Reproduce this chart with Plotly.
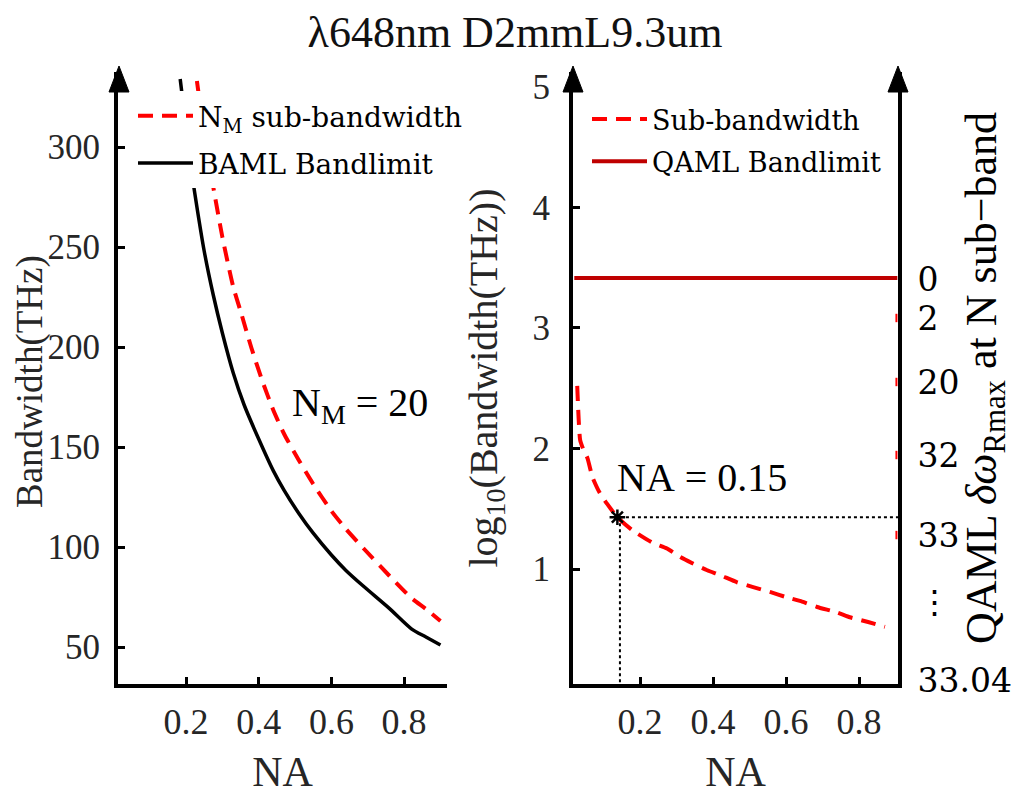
import plotly.graph_objects as go

# ---------------- data ----------------
# Left panel: NA vs bandwidth (THz)
sub_na = [0.23, 0.25, 0.275, 0.30, 0.33, 0.35, 0.38, 0.41, 0.44, 0.47, 0.51, 0.55,
          0.60, 0.64, 0.69, 0.76, 0.82, 0.86, 0.90]
sub_bw = [333, 307, 280, 255, 230, 218, 199.5, 183, 168.5, 156.5, 143.5, 131.5,
          118, 109, 99, 85.5, 74.5, 69, 63]

baml_na = [0.184, 0.20, 0.215, 0.23, 0.25, 0.275, 0.30, 0.33, 0.36, 0.40, 0.44, 0.47,
           0.51, 0.55, 0.60, 0.64, 0.69, 0.76, 0.82, 0.86, 0.90]
baml_bw = [334, 310, 288, 270, 248, 226, 207, 187, 171, 154, 138.2, 128.3,
           116.9, 106.9, 96, 88.3, 80.1, 69.2, 59.1, 55, 51]

# Right panel: NA vs log10(bandwidth)
rsub_na = [0.028, 0.036, 0.045, 0.056, 0.07, 0.09, 0.11, 0.138, 0.18, 0.233, 0.274,
           0.31, 0.342, 0.384, 0.419, 0.466, 0.51, 0.556, 0.597, 0.644, 0.685, 0.74,
           0.775, 0.825, 0.871]
rsub_log = [2.52, 2.07, 1.99, 1.92, 1.76, 1.63, 1.54, 1.43, 1.32, 1.22, 1.17,
            1.10, 1.05, 0.99, 0.95, 0.89, 0.85, 0.81, 0.77, 0.73, 0.685, 0.64,
            0.60, 0.56, 0.52]

qaml_na = [0.02, 0.905]
qaml_log = [3.415, 3.415]

mark_na = 0.138          # starred point
mark_log = 1.43
guide_na = 0.145         # dotted guide lines
guide_end_na = 0.907
guide_bottom = 0.046

# Right-hand axis: labels and positions (in log10 units of the left scale)
right_tick_vals = [3.40, 3.083, 2.552, 1.946, 1.282, 0.726, 0.079]
right_tick_text = ["0", "2", "20", "32", "33", "⋮", "33.04"]
red_mark_vals = [3.083, 2.552, 1.946, 1.282]
red_mark_na = 0.9025

left_xticks = [0.2, 0.4, 0.6, 0.8]
left_yticks = [50, 100, 150, 200, 250, 300]
right_yticks = [1, 2, 3, 4, 5]

# ---------------- figure ----------------
OFF = 8                      # page body margin
W, H = 1025 - 2 * OFF, 803 - 2 * OFF
SERIF = "Liberation Serif"
CAMB = "DejaVu Serif"
GRAY = "#262626"
RED = "#ff0000"
DRED = "#bf0000"


def px(x):
    return (x - OFF) / W


def py(y):
    return 1 - (y - OFF) / H


fig = go.Figure()

fig.add_trace(go.Scatter(x=sub_na, y=sub_bw, mode="lines", name="N<sub>M</sub> sub-bandwidth",
                         line=dict(color=RED, width=4, dash="15px,9px", shape="spline",
                                   smoothing=0.6),
                         xaxis="x", yaxis="y", legend="legend", legendgroup="a"))
fig.add_trace(go.Scatter(x=baml_na, y=baml_bw, mode="lines", name="BAML Bandlimit",
                         line=dict(color="black", width=3.5, shape="spline", smoothing=0.6),
                         xaxis="x", yaxis="y", legend="legend", legendgroup="b"))

fig.add_trace(go.Scatter(x=rsub_na, y=rsub_log, mode="lines", name="Sub-bandwidth",
                         line=dict(color=RED, width=4, dash="15px,9px", shape="spline",
                                   smoothing=0.5),
                         xaxis="x2", yaxis="y2", legend="legend2", legendgroup="c"))
fig.add_trace(go.Scatter(x=qaml_na, y=qaml_log, mode="lines", name="QAML Bandlimit",
                         line=dict(color=DRED, width=4),
                         xaxis="x2", yaxis="y2", legend="legend2", legendgroup="d"))

fig.add_trace(go.Scatter(x=[guide_na, guide_end_na, None, guide_na, guide_na],
                         y=[mark_log, mark_log, None, mark_log, guide_bottom],
                         mode="lines", line=dict(color="black", width=2, dash="dot"),
                         xaxis="x2", yaxis="y2", showlegend=False, hoverinfo="skip"))
fig.add_trace(go.Scatter(x=[mark_na], y=[mark_log], mode="markers",
                         marker=dict(symbol="asterisk-open", size=13, color="black",
                                     line=dict(color="black", width=2.5)),
                         xaxis="x2", yaxis="y2", showlegend=False))
fig.add_trace(go.Scatter(x=[red_mark_na] * len(red_mark_vals), y=red_mark_vals, mode="markers",
                         marker=dict(symbol="line-ns", size=6, color=RED,
                                     line=dict(color=RED, width=2)),
                         xaxis="x2", yaxis="y3", showlegend=False, hoverinfo="skip"))

dom_y = [py(684), py(72)]
tickfont = dict(family=SERIF, size=35, color=GRAY)
xtickfont = dict(family=SERIF, size=36, color=GRAY)

common_x = dict(showline=True, linecolor="black", linewidth=4, ticks="inside", ticklen=7,
                tickwidth=3, tickcolor="black", showgrid=False, zeroline=False,
                tickfont=xtickfont, ticklabelstandoff=3, automargin=False,
                title=dict(text="NA", font=dict(family=SERIF, size=42, color=GRAY), standoff=19))

fig.update_layout(
    width=W, height=H,
    margin=dict(l=0, r=0, t=0, b=0, autoexpand=False),
    paper_bgcolor="white", plot_bgcolor="white",
    title=dict(text="λ648nm D2mmL9.3um", x=px(515), xanchor="center", y=py(32), yanchor="middle",
               font=dict(family=SERIF, size=44, color="#111111")),
    xaxis=dict(domain=[px(118), px(447)], range=[0.0129, 0.918], anchor="y",
               tickvals=left_xticks, ticktext=["0.2", "0.4", "0.6", "0.8"], **common_x),
    yaxis=dict(domain=dom_y, range=[31.5, 337.5], anchor="x", automargin=False,
               showline=True, linecolor="black", linewidth=4, ticks="inside", ticklen=7,
               tickwidth=3, tickcolor="black", showgrid=False, zeroline=False,
               tickvals=left_yticks, tickfont=tickfont, ticklabelstandoff=7),
    xaxis2=dict(domain=[px(573), px(898)], range=[0.0164, 0.9068], anchor="y2",
                tickvals=left_xticks, ticktext=["0.2", "0.4", "0.6", "0.8"], **common_x),
    yaxis2=dict(domain=dom_y, range=[0.046, 5.124], anchor="x2", automargin=False,
                showline=True, linecolor="black", linewidth=4, ticks="inside", ticklen=7,
                tickwidth=3, tickcolor="black", showgrid=False, zeroline=False,
                tickvals=right_yticks, tickfont=tickfont, ticklabelstandoff=12,
                title=dict(text="log<sub>10</sub>(Bandwidth(THz))",
                           font=dict(family=SERIF, size=40, color=GRAY), standoff=24)),
    yaxis3=dict(domain=dom_y, range=[0.046, 5.124], anchor="x2", overlaying="y2", side="right",
                automargin=False,
                showline=True, linecolor="black", linewidth=4, ticks="", showgrid=False,
                zeroline=False, tickvals=right_tick_vals, ticktext=right_tick_text,
                tickfont=dict(family=CAMB, size=33, color="black"), ticklabelstandoff=9),
    legend=dict(x=px(133), y=py(91), xanchor="left", yanchor="top", bgcolor="white",
                font=dict(family=CAMB, size=28, color="black"), traceorder="grouped",
                tracegroupgap=8, itemwidth=55),
    legend2=dict(x=px(587), y=py(95), xanchor="left", yanchor="top",
                 bgcolor="rgba(255,255,255,0)",
                 font=dict(family=CAMB, size=27, color="black"), traceorder="grouped",
                 tracegroupgap=4, itemwidth=55),
    showlegend=True,
)

# left y-axis title (placed explicitly so it stays clear of the tick labels)
fig.add_annotation(text="Bandwidth(THz)", x=0, y=py(382), xref="paper", yref="paper",
                   textangle=-90, showarrow=False, xanchor="left", yanchor="middle",
                   borderpad=0,
                   font=dict(family=SERIF, size=37, color=GRAY))
fig.add_annotation(text="N<sub>M</sub>\u00a0=\u00a020", x=0.487, y=171, xref="x", yref="y",
                   xanchor="left", yanchor="middle", showarrow=False,
                   font=dict(family=SERIF, size=40, color="black"))
fig.add_annotation(text="NA\u00a0=\u00a00.15", x=0.131, y=1.76, xref="x2", yref="y2",
                   xanchor="left", yanchor="middle", showarrow=False,
                   font=dict(family=SERIF, size=40, color="black"))
fig.add_annotation(text="QAML <i>δω</i><sub>Rmax</sub> at N sub−band", x=px(984), y=py(378),
                   xref="paper", yref="paper", textangle=-90, showarrow=False,
                   xanchor="center", yanchor="middle",
                   font=dict(family=SERIF, size=44, color="black"))

# arrowheads on the vertical axes
for ax_x in (119, 573, 898):
    fig.add_shape(type="path", xref="paper", yref="paper",
                  path=f"M {px(ax_x - 10)} {py(92)} L {px(ax_x + 10)} {py(92)} L {px(ax_x)} {py(66)} Z",
                  fillcolor="black", line=dict(color="black", width=1))

fig.write_html("out.html")
